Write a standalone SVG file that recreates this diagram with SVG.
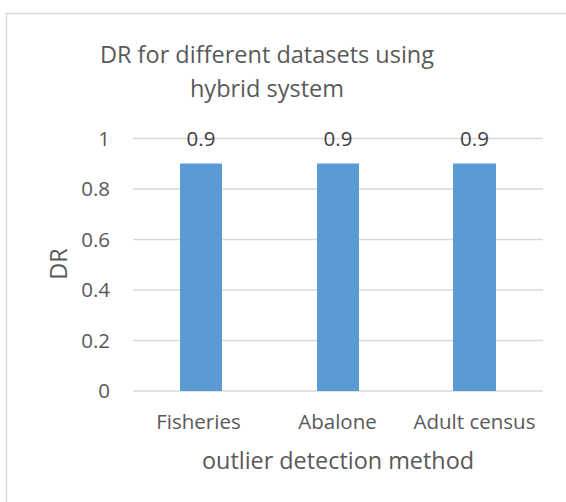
<svg xmlns="http://www.w3.org/2000/svg" width="566" height="502" viewBox="0 0 566 502">
<style>
text{font-family:"Open Sans","Noto Sans",sans-serif;fill:#595959}
.title{font-size:23.5px;text-anchor:middle}
.tick{font-size:20.5px;text-anchor:end}
.val{font-size:20.5px;text-anchor:middle;fill:#404040}
.cat{font-size:20.5px;text-anchor:middle}
.axt{font-size:23.4px;text-anchor:middle}
.grid{stroke:#d9d9d9;stroke-width:1.3}
.bar{fill:#5b9bd5}
</style>
<rect x="0" y="0" width="566" height="502" fill="#fff"/>
<path d="M6.5 502V13.5H566" fill="none" stroke="#d9d9d9" stroke-width="1.5"/>
<g id="title">
<text class="title" x="267" y="63">DR for different datasets using</text>
<text class="title" x="267" y="97">hybrid system</text>
</g>
<g id="axis">
<line class="grid" x1="133" y1="138.5" x2="543" y2="138.5"/>
<line class="grid" x1="133" y1="189" x2="543" y2="189"/>
<line class="grid" x1="133" y1="239.5" x2="543" y2="239.5"/>
<line class="grid" x1="133" y1="290" x2="543" y2="290"/>
<line class="grid" x1="133" y1="340.5" x2="543" y2="340.5"/>
<line class="grid" x1="133" y1="391" x2="543" y2="391"/>
<text class="tick" x="110" y="145.5">1</text>
<text class="tick" x="110" y="196">0.8</text>
<text class="tick" x="110" y="246.5">0.6</text>
<text class="tick" x="110" y="297">0.4</text>
<text class="tick" x="110" y="347.5">0.2</text>
<text class="tick" x="110" y="398">0</text>
<text class="axt" transform="translate(67 264) rotate(-90)">DR</text>
<text class="axt" x="338" y="469">outlier detection method</text>
</g>
<g id="bar-fisheries">
<rect class="bar" x="180" y="163.5" width="42" height="227.5"/>
<text class="val" x="201" y="146">0.9</text>
<text class="cat" x="198.5" y="429">Fisheries</text>
</g>
<g id="bar-abalone">
<rect class="bar" x="317" y="163.5" width="42" height="227.5"/>
<text class="val" x="338" y="146">0.9</text>
<text class="cat" x="337.5" y="429">Abalone</text>
</g>
<g id="bar-adult">
<rect class="bar" x="453" y="163.5" width="43" height="227.5"/>
<text class="val" x="474.5" y="146">0.9</text>
<text class="cat" x="474.5" y="429">Adult census</text>
</g>
</svg>
